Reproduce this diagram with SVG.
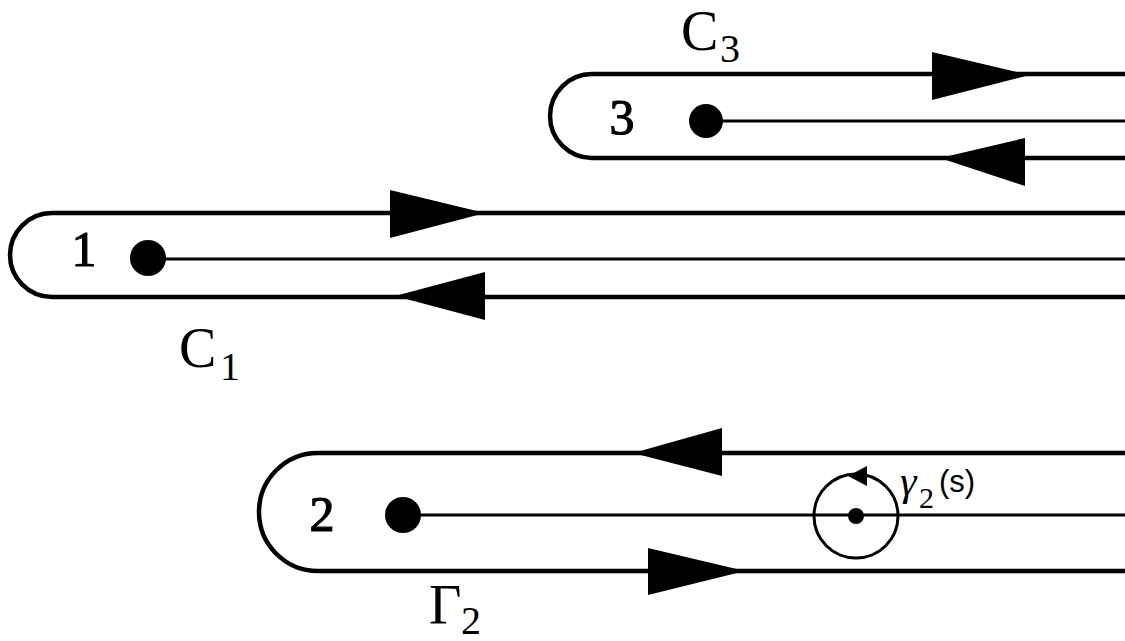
<svg xmlns="http://www.w3.org/2000/svg" width="1125" height="641" viewBox="0 0 1125 641">
<style>
.loop{fill:none;stroke:#000;stroke-width:4.5}
.cut{fill:none;stroke:#000;stroke-width:3}
.head{fill:#000}
.num{font-family:"Liberation Serif",serif;font-size:50px;fill:#000;stroke:#000;stroke-width:1.2}
.lab{font-family:"Liberation Serif",serif;font-size:56px;fill:#000}
.sub{font-family:"Liberation Serif",serif;font-size:40px;fill:#000}
</style>
<rect width="1125" height="641" fill="#fff"/>
<g id="connectors">
<path class="loop" d="M1125,74 H592 A42,42 0 0 0 592,158 H1125"/>
<path class="cut" d="M706,121 H1125"/>
<polygon class="head" points="932,52 1030,75 932,100"/>
<polygon class="head" points="1025,138 940,158 1025,186"/>
<path class="loop" d="M1125,213 H52 A42,42 0 0 0 52,297 H1125"/>
<path class="cut" d="M148,259 H1125"/>
<polygon class="head" points="390,190 485,213 390,238"/>
<polygon class="head" points="485,272 395,296 485,320"/>
<path class="loop" d="M1125,453 H318 A59,59 0 0 0 318,571 H1125"/>
<path class="cut" d="M403,515 H1125"/>
<polygon class="head" points="722,428 633,453 722,476"/>
<polygon class="head" points="648,548 745,571 648,595"/>
<circle class="cut" cx="856" cy="516" r="42"/>
<polygon class="head" points="848,476 867,466 867,486"/>
</g>
<g id="node3">
<circle cx="706" cy="121" r="17"/>
<text class="num" x="622" y="134" text-anchor="middle">3</text>
<text class="lab" x="681" y="50">C</text>
<text class="sub" x="720" y="62">3</text>
</g>
<g id="node1">
<circle cx="148" cy="258" r="18"/>
<text class="num" x="84" y="266" text-anchor="middle">1</text>
<text class="lab" x="179" y="367">C</text>
<text class="sub" x="220" y="380">1</text>
</g>
<g id="node2">
<circle cx="403" cy="515" r="18"/>
<text class="num" x="322" y="531" text-anchor="middle">2</text>
<text class="lab" x="429" y="624">Γ</text>
<text class="sub" x="461" y="634">2</text>
</g>
<g id="gamma">
<circle cx="856" cy="516" r="8"/>
<text x="900" y="495" font-family="Liberation Serif,serif" font-size="42" font-style="italic">γ</text>
<text x="919" y="508" font-family="Liberation Serif,serif" font-size="30">2</text>
<text x="939" y="492" font-family="Liberation Sans,sans-serif" font-size="31">(s)</text>
</g>
</svg>
